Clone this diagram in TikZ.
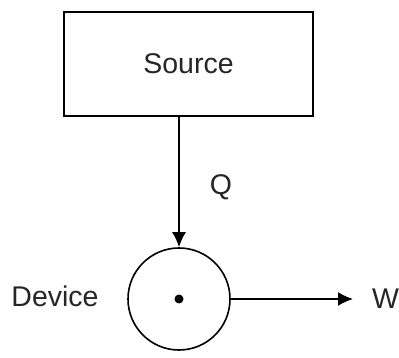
\documentclass[tikz,border=0pt]{standalone}
\usepackage{fontspec}
\setmainfont{Liberation Sans}
\usetikzlibrary{arrows.meta}
\tikzstyle{lbl}=[inner sep=0pt, text=black!85, font=\fontsize{28.5}{34}\selectfont]
\tikzstyle{box}=[lbl, rectangle, draw=black, line width=1.6pt, minimum width=249pt, minimum height=104pt]
\tikzstyle{disc}=[circle, draw=black, line width=1.6pt, minimum size=102pt, inner sep=0pt]
\tikzstyle{closed}=[circle, fill=black, inner sep=0pt, minimum size=9pt]
\tikzstyle{flow}=[line width=1.6pt, -{Latex[length=15pt,width=14pt]}]

\begin{document}
\begin{tikzpicture}[x=1pt, y=-1pt]
	\useasboundingbox (0,0) rectangle (399,358);
	\node[box] (source) at (188.5,64) {Source};
	\node[disc] (device) at (179,299) {};
	\node[closed] (centre) at (179,299) {};
	\node[lbl] (q) at (221,187) {Q};
	\node[lbl] (devlbl) at (55,296) {Device};
	\node[lbl, anchor=west] (w) at (372,299) {W};
	\draw[flow] (source.south -| device.north) -- (device.north);
	\draw[flow, shorten >=19pt] (device.east) -- (w.west);
\end{tikzpicture}
\end{document}
